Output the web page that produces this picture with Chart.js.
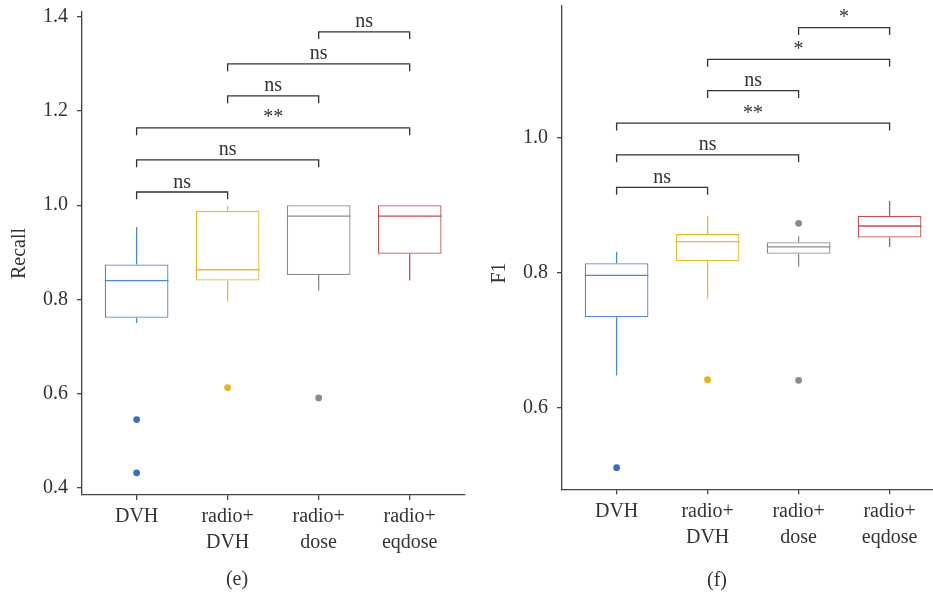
<!DOCTYPE html>
<html>
<head>
<meta charset="utf-8">
<script src="https://cdn.jsdelivr.net/npm/chart.js@4.4.1/dist/chart.umd.min.js"></script>
<style>
  html, body { margin:0; padding:0; background:#fff; }
  body { width:933px; height:592px; position:relative; overflow:hidden; }
  canvas { position:absolute; top:0; }
  .panel { position:absolute; font-family:'Liberation Serif', serif; font-size:20px; color:#333; transform:translate(-50%,-50%); }
</style>
</head>
<body>
<canvas id="chartE" width="480" height="592" style="left:0"></canvas>
<canvas id="chartF" width="453" height="592" style="left:480px"></canvas>
<div class="panel" style="left:237px; top:578px">(e)</div>
<div class="panel" style="left:717px; top:579px">(f)</div>
<script>
// ---------------- data ----------------
const categories = [['DVH'], ['radio+', 'DVH'], ['radio+', 'dose'], ['radio+', 'eqdose']];
const categoryPositions = [1, 2, 3, 4];
const groupColors = ['#4F87CF', '#E6B82A', '#8A8A8A', '#C44E4B'];
const outlierColors = ['#3A6FBF', '#E3B51C', '#8A8A8A', '#C44E4B'];

// Recall (e)
const recallMin    = [0.750, 0.796, 0.819, 0.840];
const recallQ1     = [0.761, 0.840, 0.852, 0.897];
const recallMedian = [0.840, 0.863, 0.977, 0.977];
const recallQ3     = [0.874, 0.988, 1.000, 1.000];
const recallMax    = [0.954, 0.999, 1.000, 1.000];
const recallOutliers = [[0.545, 0.432], [0.613], [0.591], []];
const recallTicks = [0.4, 0.6, 0.8, 1.0, 1.2, 1.4];

// F1 (f)
const f1Min    = [0.648, 0.762, 0.809, 0.838];
const f1Q1     = [0.734, 0.817, 0.828, 0.852];
const f1Median = [0.796, 0.846, 0.838, 0.869];
const f1Q3     = [0.814, 0.857, 0.845, 0.884];
const f1Max    = [0.831, 0.884, 0.854, 0.906];
const f1Outliers = [[0.512], [0.642], [0.873, 0.641], []];
const f1Ticks = [0.6, 0.8, 1.0];

// significance comparisons
const comparisons = [[1, 2], [1, 3], [1, 4], [2, 3], [2, 4], [3, 4]];
const recallBracketY = [1.028, 1.096, 1.164, 1.232, 1.300, 1.368];
const recallSignif   = ['ns', 'ns', '**', 'ns', 'ns', 'ns'];
const f1BracketY = [0.926, 0.974, 1.021, 1.069, 1.115, 1.162];
const f1Signif   = ['ns', 'ns', '**', 'ns', '*', '*'];

// ---------------- drawing helpers ----------------
const FONT = "'Liberation Serif', serif";
const TEXT = '#333333';
const AXIS = '#444444';

const boxExtras = {
  id: 'boxExtras',
  beforeDatasetsDraw(chart, args, o) {
    const {ctx, scales: {x, y}} = chart;
    ctx.save();
    ctx.lineWidth = 1.3;
    o.pos.forEach((p, i) => {
      const px = x.getPixelForValue(p);
      ctx.strokeStyle = groupColors[i];
      ctx.beginPath();
      ctx.moveTo(px, y.getPixelForValue(o.q3[i]));
      ctx.lineTo(px, y.getPixelForValue(o.max[i]));
      ctx.moveTo(px, y.getPixelForValue(o.q1[i]));
      ctx.lineTo(px, y.getPixelForValue(o.min[i]));
      ctx.stroke();
    });
    ctx.restore();
  },
  afterDatasetsDraw(chart, args, o) {
    const {ctx, scales: {x, y}, chartArea} = chart;
    ctx.save();
    ctx.lineWidth = 1.3;
    // medians
    o.pos.forEach((p, i) => {
      const x0 = x.getPixelForValue(p - 0.35), x1 = x.getPixelForValue(p + 0.35);
      const py = y.getPixelForValue(o.median[i]);
      ctx.strokeStyle = groupColors[i];
      ctx.beginPath();
      ctx.moveTo(x0, py); ctx.lineTo(x1, py);
      ctx.stroke();
    });
    // brackets
    ctx.strokeStyle = '#333';
    ctx.fillStyle = TEXT;
    ctx.font = '20px ' + FONT;
    ctx.textAlign = 'center';
    ctx.textBaseline = 'alphabetic';
    o.comps.forEach((c, i) => {
      const xa = x.getPixelForValue(c[0]), xb = x.getPixelForValue(c[1]);
      const yy = y.getPixelForValue(o.bY[i]);
      const yt = y.getPixelForValue(o.bY[i] - o.tip);
      ctx.beginPath();
      ctx.moveTo(xa, yt); ctx.lineTo(xa, yy); ctx.lineTo(xb, yy); ctx.lineTo(xb, yt);
      ctx.stroke();
      ctx.fillText(o.labels[i], (xa + xb) / 2, yy - 4.5);
    });
    // y title
    ctx.save();
    ctx.translate(o.titleX, o.titleYpx != null ? o.titleYpx : (chartArea.top + chartArea.bottom) / 2);
    ctx.rotate(-Math.PI / 2);
    ctx.textBaseline = 'middle';
    ctx.fillText(o.title, 0, 0);
    ctx.restore();
    ctx.restore();
  }
};

function makeChart(id, cfg) {
  const datasets = [{
    type: 'bar',
    data: cfg.pos.map((p, i) => ({x: p, y: [cfg.q1[i], cfg.q3[i]]})),
    backgroundColor: 'rgba(255,255,255,1)',
    borderColor: groupColors,
    borderWidth: 1.3,
    borderSkipped: false,
    categoryPercentage: 1.0,
    barPercentage: 0.7
  }];
  cfg.outliers.forEach((arr, i) => {
    datasets.push({
      type: 'scatter',
      data: arr.map(v => ({x: cfg.pos[i], y: v})),
      backgroundColor: outlierColors[i],
      borderColor: outlierColors[i],
      pointRadius: 3.4,
      pointBorderWidth: 0
    });
  });
  return new Chart(document.getElementById(id), {
    type: 'bar',
    data: {datasets},
    plugins: [boxExtras],
    options: {
      responsive: false,
      animation: false,
      layout: {autoPadding: false, padding: {left: 0, right: cfg.padRight, top: cfg.padTop, bottom: 0}},
      plugins: {
        legend: {display: false},
        tooltip: {enabled: false},
        boxExtras: {
          pos: cfg.pos, min: cfg.min, q1: cfg.q1, median: cfg.median, q3: cfg.q3, max: cfg.max,
          comps: comparisons, bY: cfg.bY, labels: cfg.signif, tip: cfg.tip,
          title: cfg.title, titleX: 20, titleYpx: cfg.titleYpx
        }
      },
      scales: {
        x: {
          type: 'linear',
          offset: false,
          min: 0.4, max: cfg.xMax,
          afterBuildTicks: s => { s.ticks = cfg.pos.map(v => ({value: v})); },
          afterFit: s => { s.height = cfg.xHeight; s.paddingLeft = 0; s.paddingRight = 0; },
          grid: {offset: false, drawOnChartArea: false, drawTicks: true, tickLength: 5, color: AXIS, lineWidth: 1.3},
          border: {display: true, color: AXIS, width: 1.3},
          ticks: {
            autoSkip: false, maxRotation: 0, padding: 4, color: TEXT,
            font: {family: FONT, size: 20, lineHeight: 1.3},
            callback: v => categories[cfg.pos.indexOf(v)]
          }
        },
        y: {
          type: 'linear',
          min: cfg.yMin, max: cfg.yMax,
          afterBuildTicks: s => { s.ticks = cfg.yTicks.map(v => ({value: v})); },
          afterFit: s => { s.width = 82; s.paddingTop = 0; s.paddingBottom = 0; },
          grid: {drawOnChartArea: false, drawTicks: true, tickLength: 5, color: AXIS, lineWidth: 1.3},
          border: {display: true, color: AXIS, width: 1.3},
          ticks: {
            padding: 9, color: TEXT,
            font: {family: FONT, size: 20},
            callback: v => Number(v).toFixed(1)
          }
        }
      }
    }
  });
}

makeChart('chartE', {
  pos: categoryPositions, min: recallMin, q1: recallQ1, median: recallMedian, q3: recallQ3, max: recallMax,
  outliers: recallOutliers, yTicks: recallTicks, yMin: 0.385, yMax: 1.41,
  bY: recallBracketY, signif: recallSignif, tip: 0.0155,
  xMax: 4.6, padRight: 15.7, padTop: 12, xHeight: 97,
  title: 'Recall', titleYpx: null
});

makeChart('chartF', {
  pos: categoryPositions, min: f1Min, q1: f1Q1, median: f1Median, q3: f1Q3, max: f1Max,
  outliers: f1Outliers, yTicks: f1Ticks, yMin: 0.48, yMax: 1.194,
  bY: f1BracketY, signif: f1Signif, tip: 0.0108,
  xMax: 4.477, padRight: 0, padTop: 6, xHeight: 102.7,
  title: 'F1', titleYpx: 273
});
</script>
</body>
</html>
